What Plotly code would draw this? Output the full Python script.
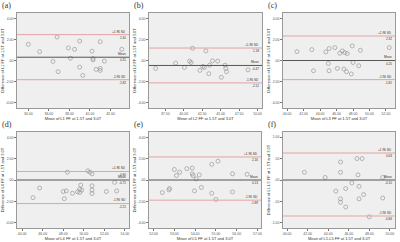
import plotly.graph_objects as go

panel_letters = ["(a)", "(b)", "(c)", "(d)", "(e)", "(f)"]
levels = ["L1", "L2", "L3", "L4", "L5", "L1-L5"]

a_x = [34.0, 35.1, 36.4, 36.8, 36.9, 37.9, 38.1, 38.5, 39.0, 39.0, 39.3, 40.2, 40.3, 40.3, 40.6, 41.0, 41.0, 41.0, 41.4, 43.1]
a_y = [1.53, 0.84, -0.09, 2.22, -1.06, 1.19, 0.22, 1.06, 1.84, -0.63, -1.41, 0.88, 0.06, 0.19, -0.84, 1.78, -0.75, -0.94, -0.06, 1.06]
b_x = [36.2, 38.9, 40.1, 40.8, 41.0, 41.2, 42.2, 42.6, 42.8, 43.0, 43.4, 43.5, 43.9, 44.6, 45.1, 45.6, 45.7, 45.8, 48.7]
b_y = [-0.75, -0.25, -0.66, -0.06, -0.19, 1.16, -0.94, -0.56, -0.66, 0.91, -1.25, -0.44, -0.03, -0.06, -1.59, -0.44, -0.75, -1.06, -0.88]
c_x = [41.2, 43.0, 43.2, 44.7, 45.0, 45.1, 45.1, 45.8, 46.1, 46.4, 46.7, 46.9, 47.0, 47.2, 47.3, 47.8, 47.9, 48.0, 48.7, 48.9, 52.4]
c_y = [0.84, 1.03, -0.97, 0.81, -0.28, 1.13, -0.97, 1.22, -0.75, 0.69, 0.91, -0.81, 0.75, -1.06, 0.66, -1.28, 1.38, -0.19, -0.50, 0.97, 1.22]
d_x = [45.06, 45.7, 48.0, 48.1, 48.3, 48.4, 48.9, 49.4, 49.6, 49.6, 49.7, 49.8, 50.4, 50.6, 50.8, 50.8, 50.8, 50.8, 52.2, 53.0, 53.2]
d_y = [-1.65, -0.76, -1.08, -1.75, -1.02, 0.73, -1.24, -1.11, -1.17, -0.86, -0.48, -0.95, 0.86, 0.73, 0.57, -0.54, -0.95, -1.27, -1.08, -0.22, -1.02]
e_x = [52.42, 52.74, 52.77, 53.0, 53.1, 53.25, 53.6, 53.86, 53.86, 53.9, 53.97, 54.05, 54.2, 54.3, 54.8, 54.8, 55.0, 55.1, 55.8, 55.8, 56.5]
e_y = [-1.18, -0.93, -0.80, 0.99, 0.42, 0.74, 1.06, 1.12, 0.58, 0.42, -1.02, 0.10, 0.48, -0.70, -1.25, 1.47, -1.82, 1.76, -1.12, 0.58, 0.54]
f_x = [41.68, 43.7, 44.74, 45.2, 45.2, 45.2, 45.2, 45.7, 45.7, 46.3, 46.8, 46.9, 47.0, 47.0, 47.3, 47.45, 48.0, 49.3, 49.3]
f_y = [0.18, 0.06, -0.26, 0.42, 0.18, -0.44, -0.52, -0.20, -0.63, -0.07, 0.50, 0.12, -0.44, -0.15, 0.50, -0.34, -0.86, 0.06, -0.42]

xs = [a_x, b_x, c_x, d_x, e_x, f_x]
ys = [a_y, b_y, c_y, d_y, e_y, f_y]

upper_loa = [2.45, 1.18, 2.32, 0.80, 2.16, 0.63]
mean_diff = [0.31, -0.47, 0.25, -0.71, 0.13, -0.10]
lower_loa = [-1.82, -2.12, -1.81, -2.21, -1.89, -0.84]
center_line = [0.31, -0.47, 0.0, 0.0, 0.0, 0.0]

x_ticks = [
    [34, 36, 38, 40, 42],
    [37.5, 40, 42.5, 45, 47.5, 50],
    [40, 42, 44, 46, 48, 50, 52],
    [44, 46, 48, 50, 52, 54],
    [52, 53, 54, 55, 56, 57],
    [40, 42, 44, 46, 48, 50],
]
x_ranges = [[32.9, 43.8], [35.3, 50.6], [39.5, 53.1], [43.5, 54.4], [51.78, 57.17], [39.6, 50.5]]
y_ticks = [[4, 2, 0, -2, -4]] * 5 + [[1, 0.5, 0, -0.5, -1]]
y_ranges = [[-4.5, 4.5]] * 5 + [[-1.12, 1.12]]


def fmt(v):
    s = "%.2f" % v
    if s.startswith("0."):
        s = s[1:]
    elif s.startswith("-0."):
        s = "-" + s[2:]
    return s

W, H = 400, 242
# pixel boxes (left, right, top, bottom)
boxes = [
    (17, 129, 13, 108), (149, 262, 13, 108), (283, 395, 13, 108),
    (17, 129, 132, 228), (149, 261, 132, 228), (283, 395, 132, 228),
]

fig = go.Figure()
FONT = "Liberation Sans"
layout = dict(
    width=W, height=H, margin=dict(l=0, r=0, t=0, b=0, autoexpand=False),
    paper_bgcolor="white", plot_bgcolor="#efefef", showlegend=False,
    font=dict(family=FONT, size=4, color="#444"),
)
shapes = []
annotations = []
for i in range(6):
    n = "" if i == 0 else str(i + 1)
    l, r, t, b = boxes[i]
    layout["xaxis" + n] = dict(
        domain=[l / W, r / W], anchor="y" + n, range=x_ranges[i], automargin=False,
        tickvals=x_ticks[i], ticktext=["%.2f" % v for v in x_ticks[i]],
        ticks="outside", ticklen=2, tickwidth=0.6, tickcolor="#777",
        showline=True, linecolor="#999", linewidth=0.6, mirror=True,
        showgrid=False, zeroline=False, tickfont=dict(size=3.5, color="#555"),
        title=dict(text="Mean of %s FF at 1.5T and 3.0T" % levels[i], font=dict(size=4, color="#333"), standoff=1),
    )
    layout["yaxis" + n] = dict(
        domain=[1 - b / H, 1 - t / H], anchor="x" + n, range=y_ranges[i], automargin=False,
        tickvals=y_ticks[i], ticktext=[fmt(v) for v in y_ticks[i]],
        ticks="outside", ticklen=2, tickwidth=0.6, tickcolor="#777",
        showline=True, linecolor="#999", linewidth=0.6, mirror=True,
        showgrid=False, zeroline=False, tickfont=dict(size=3.5, color="#555"),
        title=dict(text="Difference of %s FF at 1.5T and 3.0T" % levels[i], font=dict(size=4, color="#333"), standoff=1),
    )
    fig.add_trace(go.Scatter(
        x=xs[i], y=ys[i], mode="markers", xaxis="x" + n, yaxis="y" + n,
        marker=dict(symbol="circle-open", size=4, color="#9a9a9a", line=dict(width=0.7, color="#9a9a9a")),
    ))
    xd = "x" + n + " domain"
    for val, col, w in [(upper_loa[i], "#e3a3a3", 1.0), (lower_loa[i], "#e3a3a3", 1.0), (center_line[i], "#555555", 1.0)]:
        shapes.append(dict(type="line", xref=xd, yref="y" + n, x0=0, x1=1, y0=val, y1=val,
                           line=dict(color=col, width=w)))
    for val, lab, num in [(upper_loa[i], "+1.96 SD", upper_loa[i]), (center_line[i], "Mean", mean_diff[i]), (lower_loa[i], "-1.96 SD", lower_loa[i])]:
        annotations.append(dict(xref=xd, yref="y" + n, x=0.985, y=val, text=lab, showarrow=False, borderpad=0,
                                xanchor="right", yanchor="bottom", yshift=0.1, font=dict(size=3.1, color="#333")))
        annotations.append(dict(xref=xd, yref="y" + n, x=0.985, y=val, text="%.2f" % num, showarrow=False, borderpad=0,
                                xanchor="right", yanchor="top", yshift=-0.1, font=dict(size=3.1, color="#333")))
    annotations.append(dict(xref="paper", yref="paper", x=(l - 16) / W, y=1 - (t - 13) / H, text=panel_letters[i],
                            showarrow=False, xanchor="left", yanchor="top", borderpad=0,
                            font=dict(family="Liberation Serif", size=8, color="#333")))

layout["shapes"] = shapes
layout["annotations"] = annotations
fig.update_layout(**layout)
fig.write_html("out.html", config={"displayModeBar": False},
               post_script="document.body.style.margin='0';document.body.style.padding='0';")
